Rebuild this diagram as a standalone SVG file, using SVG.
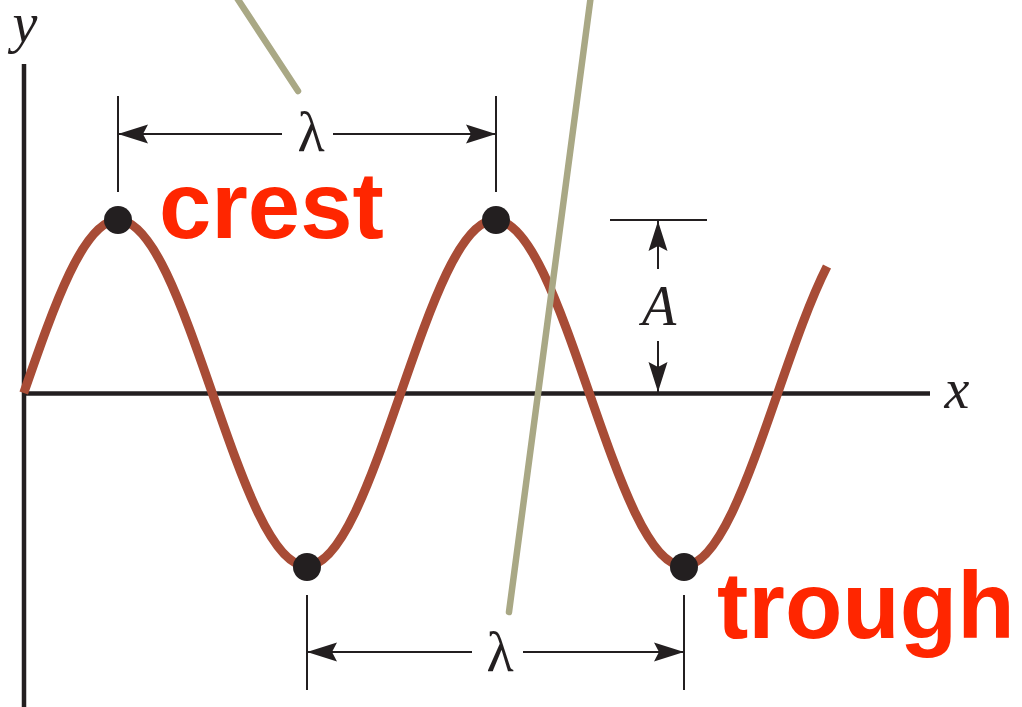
<svg xmlns="http://www.w3.org/2000/svg" width="1022" height="707" viewBox="0 0 1022 707">
<style>
.axis{stroke:#231f20;stroke-width:4.5;fill:none}
.dim{stroke:#231f20;stroke-width:2;fill:none}
.wave{stroke:#a84c36;stroke-width:9;fill:none}
.gray{stroke:#a9a885;stroke-width:6.5;stroke-linecap:round;fill:none}
.dot{fill:#231f20}
.math{font-family:"Liberation Serif","DejaVu Serif",serif;font-size:56px;fill:#231f20;text-anchor:middle}
.it{font-style:italic}
.lbl{font-family:"Liberation Sans",Arial,sans-serif;font-weight:bold;font-size:94px;fill:#ff2600}
</style>
<defs>
<marker id="arr" markerUnits="userSpaceOnUse" viewBox="0 0 30 20" refX="30" refY="10" markerWidth="30" markerHeight="20" orient="auto">
<path d="M0,0.5 L30,10 L0,19.5 L5,10 Z" fill="#231f20"/>
</marker>
</defs>
<g id="axes">
<line class="axis" x1="24" y1="64" x2="24" y2="707"/>
<line class="axis" x1="22" y1="393.5" x2="930" y2="393.5"/>
<text class="math it" x="25" y="42">y</text>
<text class="math it" x="957" y="408">x</text>
</g>
<g id="wave">
<path class="wave" d="M23.75,393 C54.49,304.37 83.89,220 118,220 C152.11,220 181.51,304.37 212.25,393 C242.99,481.63 272.39,566 306.5,566 C340.61,566 370.01,481.63 400.75,393 C431.49,304.37 460.89,220 495,220 C529.11,220 558.51,304.37 589.25,393 C619.99,481.63 649.39,566 683.5,566 C717.61,566 747.01,481.63 777.75,393 C794.17,345.67 810.58,298.79 827,266.5"/>
</g>
<g id="points">
<circle class="dot" cx="118" cy="220" r="14"/>
<circle class="dot" cx="496" cy="220" r="14"/>
<circle class="dot" cx="307" cy="567" r="14"/>
<circle class="dot" cx="684" cy="567" r="14"/>
</g>
<g id="connectors">
<line class="dim" x1="118" y1="96" x2="118" y2="192"/>
<line class="dim" x1="496" y1="96" x2="496" y2="192"/>
<line class="dim" x1="282" y1="134" x2="118" y2="134" marker-end="url(#arr)"/>
<line class="dim" x1="333" y1="134" x2="496" y2="134" marker-end="url(#arr)"/>
<line class="dim" x1="307" y1="595" x2="307" y2="690"/>
<line class="dim" x1="684" y1="595" x2="684" y2="690"/>
<line class="dim" x1="472" y1="652" x2="307" y2="652" marker-end="url(#arr)"/>
<line class="dim" x1="523" y1="652" x2="684" y2="652" marker-end="url(#arr)"/>
<line class="dim" x1="610" y1="220" x2="707" y2="220"/>
<line class="dim" x1="658" y1="269" x2="658" y2="221" marker-end="url(#arr)"/>
<line class="dim" x1="658" y1="341" x2="658" y2="392" marker-end="url(#arr)"/>
</g>
<g id="dim-labels">
<text class="math" x="311" y="151">λ</text>
<text class="math" x="500" y="671">λ</text>
<text class="math it" x="659" y="325">A</text>
</g>
<g id="pointers">
<line class="gray" x1="235" y1="-5" x2="298" y2="91"/>
<line class="gray" x1="591" y1="-5" x2="509" y2="612"/>
</g>
<g id="labels">
<text class="lbl" x="159" y="238">crest</text>
<text class="lbl" x="717" y="638">trough</text>
</g>
</svg>
